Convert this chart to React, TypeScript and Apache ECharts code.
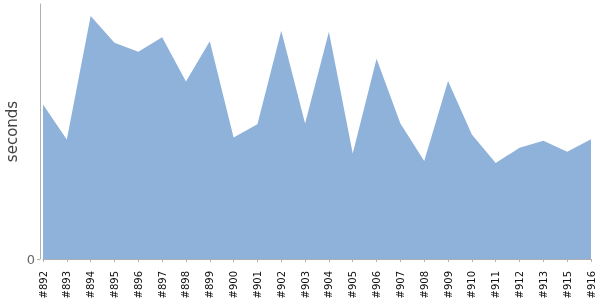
import React, { useEffect, useRef } from "react";
import * as echarts from "echarts";

const categories = ["#892","#893","#894","#895","#896","#897","#898","#899","#900","#901","#902","#903","#904","#905","#906","#907","#908","#909","#910","#911","#912","#913","#915","#916"];
const seconds = [154.4,119.4,242.7,216,207,221.4,177.4,217.4,121.4,134.7,228,135.4,227,105.4,200,135.4,98,177.7,124.4,96,111,118,107,119.7];
const yMax = 254.7;
const yTicks = [0];

export default function App() {
  const ref = useRef<HTMLDivElement>(null);
  useEffect(() => {
    const chart = echarts.init(ref.current!, null, { renderer: "svg" });
    chart.setOption({
      animation: false,
      grid: { left: 43, right: 9, top: 4, bottom: 41, containLabel: false, outerBoundsMode: "none" },
      xAxis: {
        type: "category",
        data: categories,
        boundaryGap: false,
        offset: 4,
        axisLine: { show: true, lineStyle: { color: "#b0b0b0", width: 1 } },
        axisTick: { show: true, length: 3, alignWithLabel: true, lineStyle: { color: "#b0b0b0" } },
        axisLabel: { rotate: 90, fontSize: 10, color: "#111", margin: 8, interval: 0, fontFamily: "DejaVu Sans" },
        splitLine: { show: false },
      },
      yAxis: {
        type: "value",
        min: 0,
        max: yMax,
        offset: 3,
        name: "seconds",
        nameLocation: "middle",
        nameGap: 21,
        nameMoveOverlap: false,
        nameTextStyle: { fontSize: 15, color: "#444", fontFamily: "DejaVu Sans" },
        axisLine: { show: true, lineStyle: { color: "#b0b0b0", width: 1 } },
        axisTick: { show: true, length: 3, customValues: yTicks, lineStyle: { color: "#b0b0b0" } },
        axisLabel: { show: true, customValues: yTicks, fontSize: 13, color: "#666", margin: 5, fontFamily: "DejaVu Sans" },
        splitLine: { show: false },
      },
      series: [
        {
          type: "line",
          data: seconds,
          symbol: "none",
          lineStyle: { width: 0, color: "#8FB2DA" },
          itemStyle: { color: "#8FB2DA" },
          areaStyle: { color: "#8FB2DA", opacity: 1 },
        },
      ],
    });
    return () => chart.dispose();
  }, []);
  return (
    <div
      ref={ref}
      style={{ position: "fixed", left: 0, top: 0, width: 600, height: 300 }}
    />
  );
}
